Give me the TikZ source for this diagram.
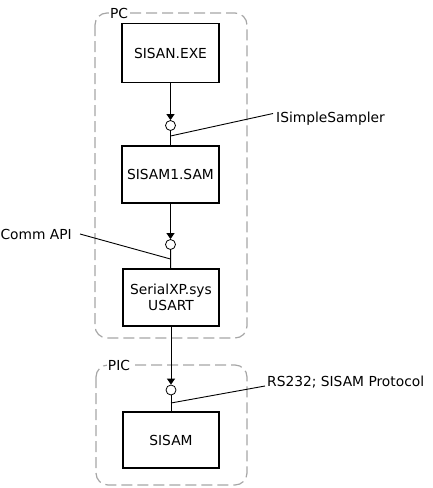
\documentclass[tikz,border=0pt]{standalone}
\usepackage{fontspec}
\setmainfont{DejaVu Sans}
\usetikzlibrary{arrows.meta}
\begin{document}
\begin{tikzpicture}[x=1pt,y=-1pt,
  font=\fontsize{13.8}{16.5}\selectfont,
  comp/.style={draw,line width=1.3pt,fill=white,align=center,inner sep=0pt},
  iface/.style={draw,circle,line width=0.8pt,minimum size=10pt,inner sep=0pt,fill=white},
  conn/.style={line width=1pt},
  lead/.style={line width=0.9pt},
  grp/.style={draw=black!35,dash pattern=on 11pt off 5pt,line width=1.2pt,rounded corners=12pt},
  grplabel/.style={fill=white,inner sep=1pt},
  tip/.style={-{Triangle[length=6pt,width=8pt]}}
]
\useasboundingbox (0,0) rectangle (432,488);
% containers
\draw[grp] (95,13) rectangle (247,338);
\draw[grp] (96,365) rectangle (247,485);
\node[grplabel] (pc) at (119,13) {PC};
\node[grplabel] (pic) at (119,365) {PIC};
% components
\node[comp,minimum width=97pt,minimum height=59pt] (exe) at (170.5,53) {SISAN.EXE};
\node[comp,minimum width=97pt,minimum height=57pt] (sam1) at (170.5,174.5) {SISAM1.SAM};
\node[comp,minimum width=96pt,minimum height=57pt] (serial) at (171,297.5) {SerialXP.sys\\USART};
\node[comp,minimum width=96pt,minimum height=56pt] (sisam) at (171,440) {SISAM};
% interfaces
\node[iface] (i1) at (170.5,125.5) {};
\node[iface] (i2) at (170.5,244.5) {};
\node[iface] (i3) at (171,390) {};
% connectors
\draw[conn,tip] (exe) -- (i1);
\draw[conn] (i1) -- (sam1);
\draw[conn,tip] (sam1) -- (i2);
\draw[conn] (i2) -- (serial);
\draw[conn,tip] (serial) -- (i3);
\draw[conn] (i3) -- (sisam);
% leaders
\coordinate (a1) at (170.5,136);
\coordinate (a2) at (170.5,259);
\coordinate (a3) at (171,403);
\coordinate (e1) at (273,113.5);
\coordinate (e2) at (80,234);
\coordinate (e3) at (265,386);
\node[anchor=west,inner sep=0pt] (l1) at (276,119) {ISimpleSampler};
\node[anchor=east,inner sep=0pt] (l2) at (72,234) {Comm API};
\node[anchor=west,inner sep=0pt] (l3) at (267,382) {RS232; SISAM Protocol};
\draw[lead] (a1) -- (e1);
\draw[lead] (a2) -- (e2);
\draw[lead] (a3) -- (e3);
\end{tikzpicture}
\end{document}
